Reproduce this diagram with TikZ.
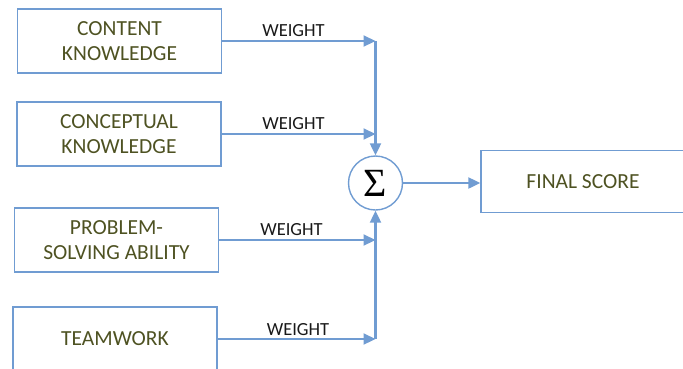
\documentclass[tikz,border=0pt]{standalone}
\usepackage{fontspec}
\setmainfont{Carlito}
\newfontfamily\sigfont{Liberation Serif}
\usetikzlibrary{arrows.meta,calc}
\definecolor{lblue}{RGB}{112,156,210}
\definecolor{olivetext}{RGB}{78,82,34}
\begin{document}
\begin{tikzpicture}[x=1pt,y=-1pt,
  inbox/.style={draw=lblue,line width=1.4pt,minimum width=204pt,minimum height=64pt,inner sep=0pt,
    align=center,font=\fontsize{21.5}{25}\selectfont,text=olivetext},
  wlabel/.style={font=\fontsize{18.5}{20}\selectfont,text=black!90,inner sep=0pt},
  conn/.style={draw=lblue,line width=2.2pt},
  arr/.style={conn,-{Triangle[length=12pt,width=11pt]}}]
\useasboundingbox (0,0) rectangle (683,368);
\node[inbox] (b1) at (119.5,41) {CONTENT\\KNOWLEDGE};
\node[inbox] (b2) at (119,134) {CONCEPTUAL\\KNOWLEDGE};
\node[inbox] (b3) at (116.5,240) {PROBLEM-\\SOLVING ABILITY};
\node[inbox] (b4) at (115,339) {TEAMWORK};
\node[draw=lblue,line width=1.4pt,circle,minimum size=54pt,inner sep=0pt] (sig) at (375.5,183)
  {\sigfont\fontsize{40}{40}\selectfont Σ};
\node[inbox,minimum height=62pt] (fin) at (583,181.5) {\raisebox{-3pt}{FINAL SCORE}};
\node[wlabel] (w1) at (293.5,31) {WEIGHT};
\node[wlabel] (w2) at (293.5,123.5) {WEIGHT};
\node[wlabel] (w3) at (291.5,230) {WEIGHT};
\node[wlabel] (w4) at (298,329.5) {WEIGHT};
\draw[arr] (b1.east) -- (b1.east -| sig);
\draw[arr] (b1.east -| sig) -- (sig.north);
\draw[arr] (b2.east) -- (b2.east -| sig);
\draw[arr] (b3.east) -- (b3.east -| sig);
\draw[arr] (b4.east) -- (b4.east -| sig);
\draw[arr] (b4.east -| sig) -- (sig.south);
\draw[arr] (sig.east) -- (sig.east -| fin.west);
\end{tikzpicture}
\end{document}
